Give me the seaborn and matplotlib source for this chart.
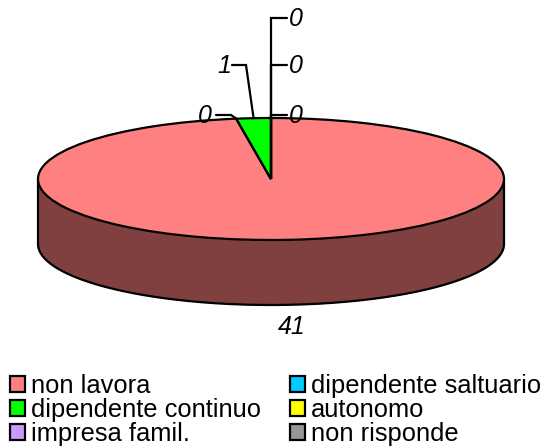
import numpy as np
import seaborn as sns
import matplotlib.pyplot as plt
from matplotlib.patches import Patch

#chart values, legend reads row by row
categories = ['non lavora', 'dipendente saltuario', 'dipendente continuo',
              'autonomo', 'impresa famil.', 'non risponde']
values = [41, 0, 1, 0, 0, 0]
slice_colors = ['#FF8080', '#00CCFF', '#00FF00', '#FFFF00', '#CC99FF', '#969696']
side_color = '#804040'

sns.set_theme(style='white')
plt.rcParams['font.family'] = ['Liberation Sans', 'DejaVu Sans']

W, H = 544, 446
CX, CY, RX, RY, DEPTH = 271, 179, 233, 61, 65
LW = 1.6

fig = plt.figure(figsize=(W / 100, H / 100), dpi=100)

#pie axes, one unit is RX pixels across and RY pixels down, so the circle flattens
ax = fig.add_axes([0, 0, 1, 1])
wedges, _ = ax.pie(values, colors=slice_colors, startangle=90, counterclock=False,
                   wedgeprops={'edgecolor': 'black', 'linewidth': LW, 'zorder': 3})
ax.set_aspect('auto')
ax.set_xlim(-CX / RX, (W - CX) / RX)
ax.set_ylim((CY - H) / RY, CY / RY)

#side of the disc, lower half of the ellipse pushed down
t = np.linspace(np.pi, 2 * np.pi, 300)
ex, ey = np.cos(t), np.sin(t)
drop = DEPTH / RY
ax.fill_between(ex, ey, ey - drop, color=side_color, linewidth=0, zorder=1)
ax.plot(ex, ey - drop, color='black', lw=LW, zorder=2)
ax.plot([-1, -1], [0, -drop], color='black', lw=LW, zorder=2)
ax.plot([1, 1], [0, -drop], color='black', lw=LW, zorder=2)

#overlay in pixels for the value labels and the legend
over = fig.add_axes([0, 0, 1, 1], facecolor='none')
over.set_xlim(0, W)
over.set_ylim(H, 0)
over.axis('off')

#elbow and text position for each label, None means no leader line
elbows = [None, (231, 115), (246, 65), (271, 115), (271, 65), (271, 18)]
ends = [None, (216, 115), (232, 65), (287, 115), (287, 65), (287, 18)]
text_pos = [(292, 327), (205, 116), (224, 66), (296, 116), (296, 66), (296, 19)]

for val, w, el, en, tp in zip(values, wedges, elbows, ends, text_pos):
    if el is not None:
        mid = np.radians((w.theta1 + w.theta2) / 2)
        sx = CX + RX * np.cos(mid)
        sy = CY - RY * np.sin(mid)
        over.plot([sx, el[0], en[0]], [sy, el[1], en[1]], color='black', lw=LW,
                  solid_joinstyle='miter')
    over.text(tp[0], tp[1], str(val), fontsize=18, style='italic',
              ha='center', va='center', color='black')

handles = [Patch(facecolor=c, edgecolor='black', linewidth=LW, label=n)
           for c, n in zip(slice_colors, categories)]
handles = handles[::2] + handles[1::2]
over.legend(handles=handles, ncol=2, frameon=False, fontsize=18.4, labelcolor='black',
            loc='upper left', bbox_to_anchor=(10 / W, 1 - 374 / H),
            borderaxespad=0, borderpad=0, labelspacing=0.0,
            handlelength=0.58, handleheight=0.58, handletextpad=0.25,
            columnspacing=1.12)

fig.savefig('out.png', dpi=100, facecolor='white')
